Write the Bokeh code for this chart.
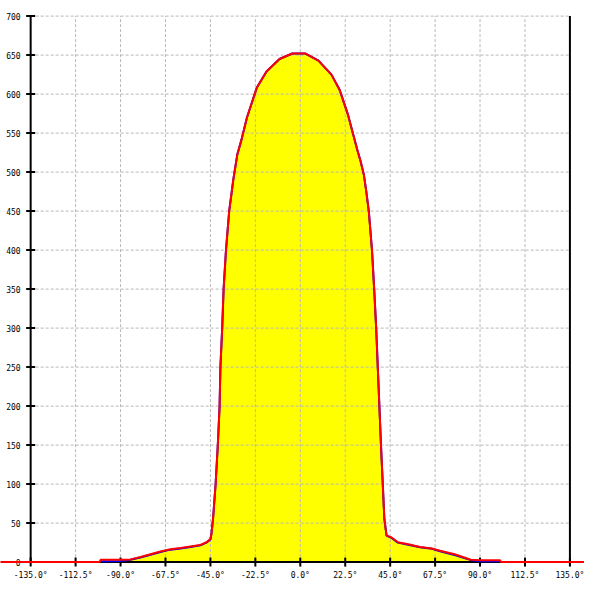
import math
from bokeh.plotting import figure
from bokeh.models import Range1d
from bokeh.embed import file_html
from bokeh.resources import INLINE
from bokeh.core.properties import value

# ---- data ----
angles = [-100, -95, -90, -85, -80, -75, -70, -65, -60, -55, -50, -47, -45, -44.5,
          -43.7, -42.4, -41.3, -40.4, -40, -39.1, -38.4, -37.2, -35.6, -33.5, -31.5,
          -29.5, -26.7, -21.8, -16.9, -10.4, -4, 0, 2.6, 9.1, 15.6, 19.6, 23.7, 28.6,
          30.2, 31.8, 33.0, 34.3, 35.9, 37, 38, 38.8, 39.6, 40.4, 41.3, 42.1, 43.2, 45.7, 48.9,
          54.6, 60, 65.9, 70, 77.3, 85.4, 90, 95, 100]
blue_vals = [1, 1, 1.5, 3, 6, 9.5, 13, 16, 17.5, 19.5, 21.5, 25, 29, 36,
             55, 100, 150, 200, 250, 300, 350, 400, 450, 491, 523,
             541, 570, 608, 629, 645, 652, 652, 652, 643, 625, 606, 575, 528,
             514, 497, 476, 450, 400, 350, 300, 250, 200, 150, 100, 55, 34, 31, 25,
             22, 19, 17, 14, 9, 2.5, 1, 1, 1]
red_angles = [-180, -100.5] + angles + [100.5, 180]
red_vals = [0, 0, 3, 3, 3, 3.5, 6.5, 10, 13.5, 16.5, 18, 20, 22, 25.5, 29.5, 36,
            55, 100, 150, 200, 250, 300, 350, 400, 450, 491, 523,
            541, 570, 608, 629, 645, 652, 652, 652, 643, 625, 606, 575, 528,
            514, 497, 476, 450, 400, 350, 300, 250, 200, 150, 100, 55, 34, 31.5, 25.5,
            22.5, 19.5, 17.5, 14.5, 10, 3, 2.5, 2.5, 2.5, 0, 0]

x_ticks = [-135.0, -112.5, -90.0, -67.5, -45.0, -22.5, 0.0, 22.5, 45.0, 67.5, 90.0, 112.5, 135.0]
y_ticks = [0, 50, 100, 150, 200, 250, 300, 350, 400, 450, 500, 550, 600, 650, 700]

x_labels = [f"{t:.1f}\u00b0" for t in x_ticks]
y_labels = [str(t) for t in y_ticks]

x_lo, x_hi = x_ticks[0], x_ticks[-1]
y_lo, y_hi = y_ticks[0], y_ticks[-1]

p = figure(width=584, height=584,
           x_range=Range1d(-150.1, 142.3), y_range=Range1d(-28.7, 720.0),
           x_axis_type=None, y_axis_type=None,
           output_backend="svg", toolbar_location=None, min_border=0)
p.grid.visible = False
p.outline_line_color = None
p.background_fill_color = "white"

# filled area under the curve
p.varea(x=angles, y1=[0] * len(angles), y2=blue_vals, fill_color="#ffff00")

# grid
inner_x = x_ticks[1:-1]
p.segment(x0=inner_x, y0=[y_lo] * len(inner_x), x1=inner_x, y1=[y_hi] * len(inner_x),
          line_color="#b8b8b8", line_width=1, line_dash="3 2")
inner_y = y_ticks[1:]
p.segment(x0=[x_lo] * len(inner_y), y0=inner_y, x1=[x_hi] * len(inner_y), y1=inner_y,
          line_color="#b8b8b8", line_width=1, line_dash="3 2")

# axes lines
p.segment(x0=[x_lo, x_hi, x_lo], y0=[y_lo, y_lo, y_lo], x1=[x_lo, x_hi, x_hi], y1=[y_hi, y_hi, y_lo],
          line_color="black", line_width=2)

# ticks
p.scatter(x=[x_lo] * len(y_ticks), y=y_ticks, marker="dash", size=9,
          line_color="black", line_width=2)
p.scatter(x=x_ticks, y=[y_lo] * len(x_ticks), marker="dash", angle=math.pi / 2, size=9,
          line_color="black", line_width=2)

# tick labels
p.text(x=[x_lo] * len(y_ticks), y=y_ticks, text=y_labels, x_offset=-10,
       text_align="right", text_baseline="middle", text_font=value("DejaVu Sans Mono"),
       text_font_size="8px", text_color="black")
p.text(x=x_ticks, y=[y_lo] * len(x_ticks), text=x_labels, y_offset=13,
       text_align="center", text_baseline="middle", text_font=value("DejaVu Sans Mono"),
       text_font_size="8px", text_color="black")

# series
p.line(angles, blue_vals, line_color="#0000ff", line_width=2)
p.line(red_angles, red_vals, line_color="#ff0000", line_width=2)

open("out.html", "w").write(file_html(p, INLINE))
